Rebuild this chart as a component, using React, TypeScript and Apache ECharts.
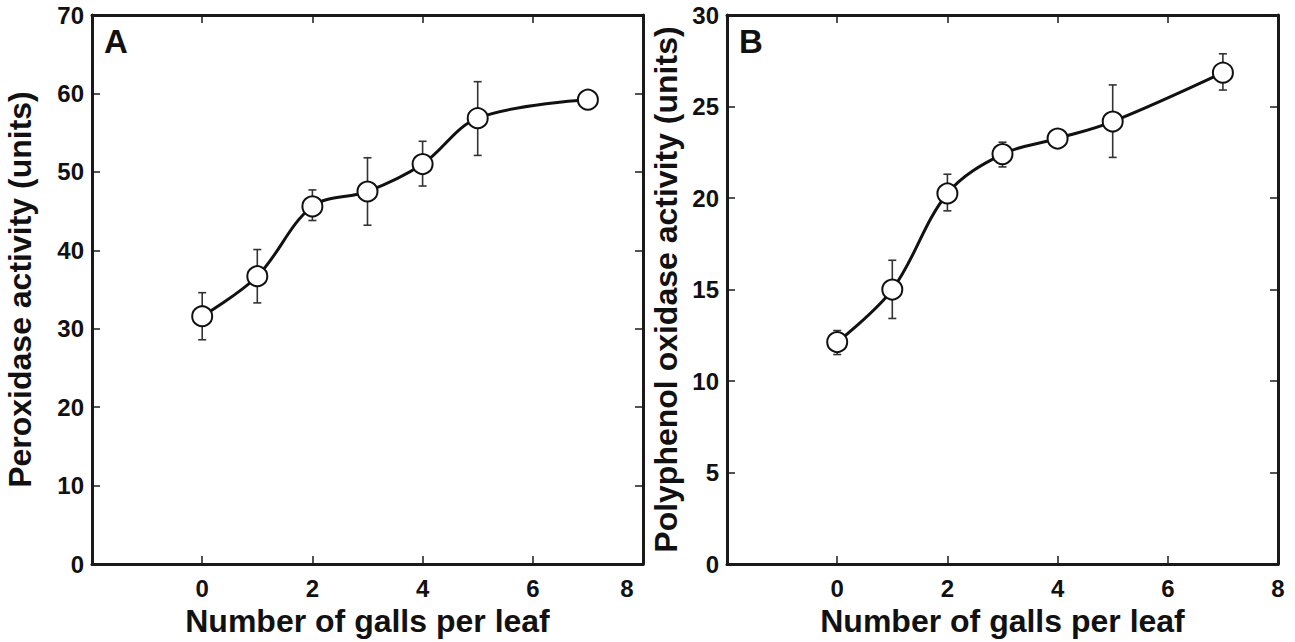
import React, { useEffect, useRef } from "react";
import * as echarts from "echarts";

// ---- data ----
const gallsA = [0, 1, 2, 3, 4, 5, 7];
const peroxidaseMean = [31.6, 36.7, 45.6, 47.5, 51.0, 56.85, 59.2];
const peroxidaseLow = [28.6, 33.3, 43.8, 43.2, 48.2, 52.1, null];
const peroxidaseHigh = [34.6, 40.1, 47.7, 51.8, 53.9, 61.5, null];

const gallsB = [0, 1, 2, 3, 4, 5, 7];
const ppoMean = [12.13, 15.0, 20.25, 22.4, 23.25, 24.18, 26.85];
const ppoLow = [11.45, 13.42, 19.3, 21.7, 23.0, 22.22, 25.9];
const ppoHigh = [12.76, 16.6, 21.3, 23.05, 23.5, 26.18, 27.88];

const xTicksMin = -2;
const xTicksMax = 8;

const FONT = '"Liberation Sans", Arial, Helvetica, sans-serif';

function errData(x: number[], lo: (number | null)[], hi: (number | null)[]) {
  const out: number[][] = [];
  x.forEach((v, i) => {
    if (lo[i] != null && hi[i] != null) out.push([v, lo[i] as number, hi[i] as number]);
  });
  return out;
}

function errSeries(xIdx: number, yIdx: number, data: number[][]) {
  return {
    type: "custom",
    xAxisIndex: xIdx,
    yAxisIndex: yIdx,
    z: 2,
    silent: true,
    data,
    renderItem: (params: any, api: any) => {
      const x = api.value(0);
      const lo = api.value(1);
      const hi = api.value(2);
      const pH = api.coord([x, hi]);
      const pL = api.coord([x, lo]);
      const w = 4;
      const st = { stroke: "#333", lineWidth: 1.6 };
      return {
        type: "group",
        children: [
          { type: "line", shape: { x1: pH[0], y1: pH[1], x2: pL[0], y2: pL[1] }, style: st },
          { type: "line", shape: { x1: pH[0] - w, y1: pH[1], x2: pH[0] + w, y2: pH[1] }, style: st },
          { type: "line", shape: { x1: pL[0] - w, y1: pL[1], x2: pL[0] + w, y2: pL[1] }, style: st },
        ],
      };
    },
  };
}

export default function App() {
  const ref = useRef<HTMLDivElement>(null);
  useEffect(() => {
    if (!ref.current) return;
    const chart = echarts.init(ref.current, null, { renderer: "svg" });
    const axisLine = { show: true, onZero: false, lineStyle: { color: "#1a1a1a", width: 3 } };
    const tickIn = { show: true, inside: true, length: 8, lineStyle: { color: "#1a1a1a", width: 1.5 } };
    const lbl = { color: "#111", fontFamily: FONT, fontWeight: "bold", fontSize: 24 };
    const nameStyle = { color: "#111", fontFamily: FONT, fontWeight: "bold", fontSize: 32 };

    const grids = [
      { left: 92, top: 15, width: 551, height: 550 },
      { left: 727, top: 15, width: 551, height: 550 },
    ];

    const xAxes: any[] = [];
    const yAxes: any[] = [];
    [0, 1].forEach((g) => {
      xAxes.push({
        type: "value",
        gridIndex: g,
        min: xTicksMin,
        max: xTicksMax,
        interval: 2,
        position: "bottom",
        axisLine,
        axisTick: tickIn,
        splitLine: { show: false },
        axisLabel: {
          ...lbl,
          margin: 12,
          showMinLabel: false,
          formatter: (v: number) => (g === 0 && v === 8 ? "{r|8}" : String(v)),
          rich: { r: { ...lbl, padding: [0, 32, 0, 0] } },
        },
        name: "Number of galls per leaf",
        nameLocation: "middle",
        nameGap: 36,
        nameTextStyle: nameStyle,
      });
      xAxes.push({
        type: "value",
        gridIndex: g,
        min: xTicksMin,
        max: xTicksMax,
        interval: 2,
        position: "top",
        axisLine,
        axisTick: tickIn,
        axisLabel: { show: false },
        splitLine: { show: false },
      });
      const yMax = g === 0 ? 70 : 30;
      const yInt = g === 0 ? 10 : 5;
      yAxes.push({
        type: "value",
        gridIndex: g,
        min: 0,
        max: yMax,
        interval: yInt,
        position: "left",
        axisLine,
        axisTick: tickIn,
        splitLine: { show: false },
        axisLabel: { ...lbl, margin: 8 },
        name: g === 0 ? "Peroxidase activity (units)" : "Polyphenol oxidase activity (units)",
        nameLocation: "middle",
        nameRotate: 90,
        nameGap: g === 0 ? 56 : 45,
        nameTextStyle: nameStyle,
      });
      yAxes.push({
        type: "value",
        gridIndex: g,
        min: 0,
        max: yMax,
        interval: yInt,
        position: "right",
        axisLine,
        axisTick: tickIn,
        axisLabel: { show: false },
        splitLine: { show: false },
      });
    });

    const lineSeries = (xIdx: number, yIdx: number, xs: number[], ys: number[]) => ({
      type: "line",
      xAxisIndex: xIdx,
      yAxisIndex: yIdx,
      z: 3,
      smooth: 0.35,
      data: xs.map((x, i) => [x, ys[i]]),
      symbol: "circle",
      symbolSize: 20,
      showSymbol: true,
      lineStyle: { color: "#111", width: 3 },
      itemStyle: { color: "#fff", borderColor: "#111", borderWidth: 2 },
    });

    chart.setOption({
      animation: false,
      backgroundColor: "#fff",
      grid: grids,
      xAxis: xAxes,
      yAxis: yAxes,
      graphic: [
        { type: "text", left: 104, top: 25, style: { text: "A", font: `bold 33px ${FONT}`, fill: "#111" } },
        { type: "text", left: 739, top: 25, style: { text: "B", font: `bold 33px ${FONT}`, fill: "#111" } },
      ],
      series: [
        errSeries(0, 0, errData(gallsA, peroxidaseLow, peroxidaseHigh)),
        lineSeries(0, 0, gallsA, peroxidaseMean),
        errSeries(2, 2, errData(gallsB, ppoLow, ppoHigh)),
        lineSeries(2, 2, gallsB, ppoMean),
      ],
    });
    return () => chart.dispose();
  }, []);
  return (
    <div
      ref={ref}
      style={{ position: "absolute", left: 0, top: 0, width: 1295, height: 642, background: "#fff" }}
    />
  );
}
